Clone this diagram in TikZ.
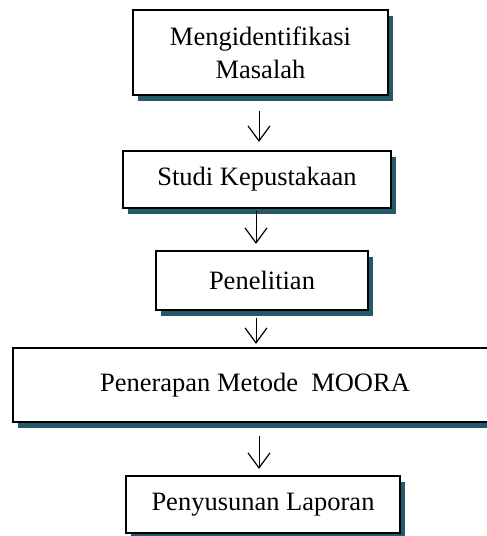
\documentclass[tikz,border=0pt]{standalone}
\usepackage{fontspec}
\setmainfont{Liberation Serif}
\usetikzlibrary{arrows.meta,shadows}
\definecolor{shadowc}{HTML}{24596A}
\tikzset{
  box/.style={draw=black, line width=2.2pt, fill=white, inner sep=0pt, align=center,
    font=\fontsize{26.5}{33}\selectfont,
    drop shadow={shadow xshift=4.5pt, shadow yshift=-5.5pt, fill=shadowc, opacity=1}},
  arr/.style={line width=1pt, -{Straight Barb[length=15pt,width=22pt,line width=1.2pt]}}
}
\begin{document}
\begin{tikzpicture}[x=1pt,y=-1pt]
\useasboundingbox (0,0) rectangle (487,536);
\clip (0,0) rectangle (487,536);
\node[box, minimum width=255pt, minimum height=85pt] (a) at (260.5,52.5) {Mengidentifikasi\\Masalah};
\node[box, minimum width=268pt, minimum height=57pt] (b) at (257,179.5) {Studi Kepustakaan};
\node[box, minimum width=212pt, minimum height=59pt] (c) at (262,280.5) {Penelitian};
\node[box, minimum width=484pt, minimum height=74pt] (d) at (255,385) {Penerapan Metode\ \ MOORA};
\node[box, minimum width=274pt, minimum height=57pt] (e) at (263,504.5) {Penyusunan Laporan};
\draw[arr, shorten <=15pt, shorten >=8pt] ([xshift=-1.5pt]a.south) -- ([xshift=-1.5pt,yshift=0pt]a.south |- b.north);
\draw[arr, shorten <=2pt, shorten >=6pt] ([xshift=-1pt]b.south) -- ([xshift=-1pt]b.south |- c.north);
\draw[arr, shorten <=7pt, shorten >=3pt] ([xshift=-6pt]c.south) -- ([xshift=-6pt]c.south |- d.north);
\draw[arr, shorten <=13pt, shorten >=6pt] ([xshift=4pt]d.south) -- ([xshift=4pt]d.south |- e.north);
\end{tikzpicture}
\end{document}
